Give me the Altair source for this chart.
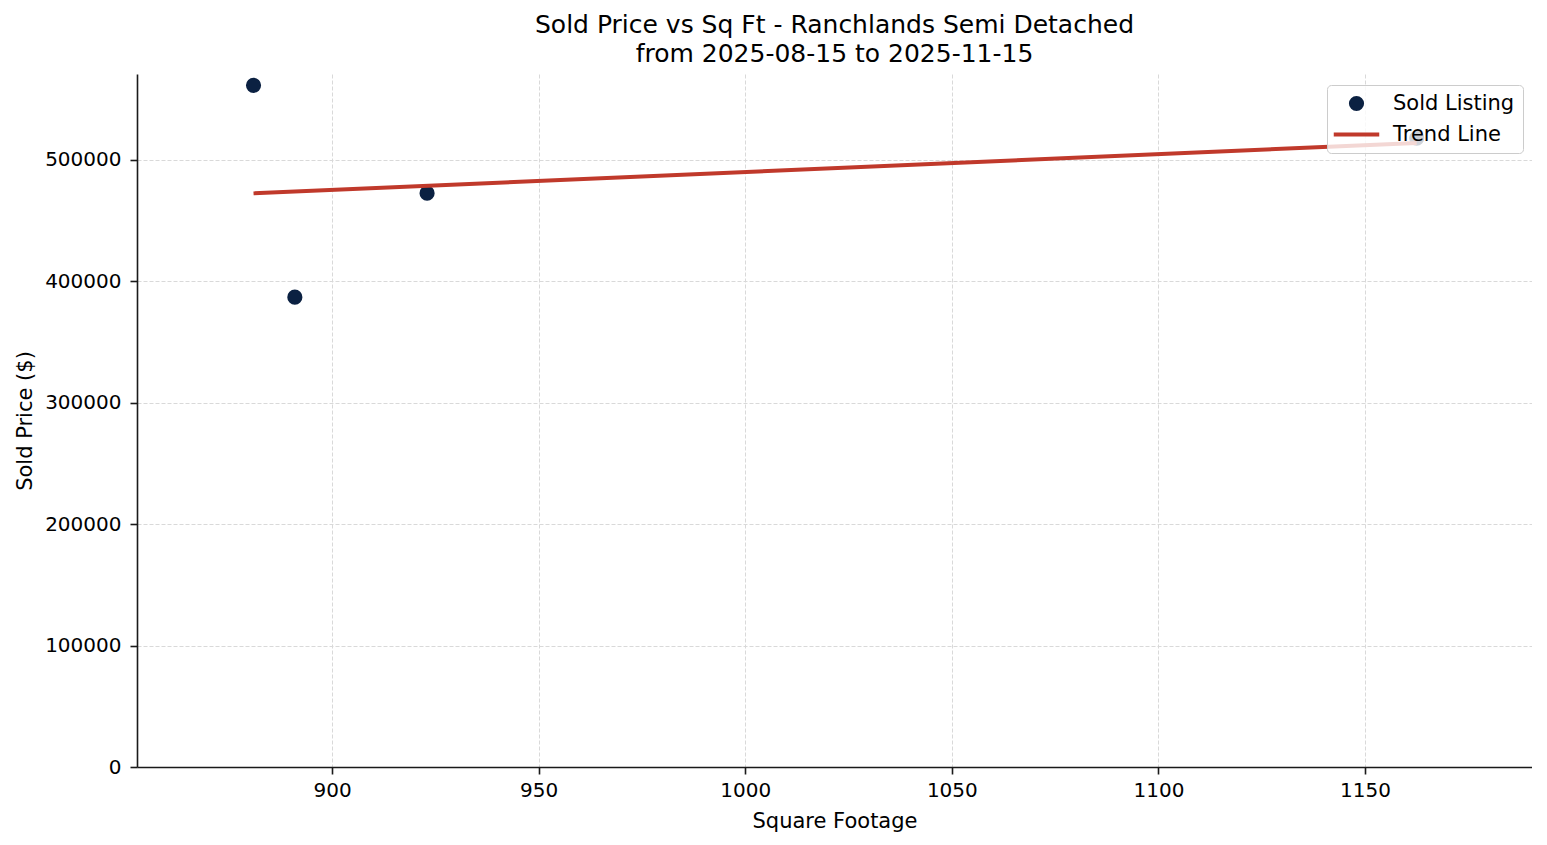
import altair as alt
import pandas as pd

sqft = [881, 891, 923, 1162.5]
price = [561500, 387000, 472600, 518000]
series = ["Sold Listing"] * 4

x_ticks = [900, 950, 1000, 1050, 1100, 1150]
y_ticks = [0, 100000, 200000, 300000, 400000, 500000]

df = pd.DataFrame({"sqft": sqft, "price": price, "series": series})

NAVY = "#0b2142"
RED = "#c0392b"
FONT = "DejaVu Sans"

xscale = alt.Scale(domain=[852.8, 1190.4], nice=False, zero=False)
yscale = alt.Scale(domain=[0, 570800], nice=False, zero=False)

xaxis = alt.Axis(values=x_ticks, title="Square Footage", format="d",
                 grid=True, titlePadding=10, labelPadding=6)
yaxis = alt.Axis(values=y_ticks, title="Sold Price ($)", format="d",
                 grid=True, titlePadding=9, labelPadding=9)

line_path = "M-3,-0.26L3,-0.26L3,0.26L-3,0.26Z"

points = alt.Chart(df).mark_point(filled=True, size=230, opacity=1).encode(
    x=alt.X("sqft:Q", scale=xscale, axis=xaxis),
    y=alt.Y("price:Q", scale=yscale, axis=yaxis),
    color=alt.Color("series:N",
                    scale=alt.Scale(domain=["Sold Listing", "Trend Line"], range=[NAVY, RED]),
                    legend=alt.Legend(title=None, orient="none", legendX=1190, legendY=11,
                                      fillColor="rgba(255,255,255,0.8)", strokeColor="#cccccc",
                                      cornerRadius=4, padding=8, symbolSize=230,
                                      symbolOffset=11, labelOffset=26, rowPadding=8,
                                      labelFontSize=21, labelFont=FONT, labelColor="black",
                                      symbolOpacity=1)),
    shape=alt.Shape("series:N",
                    scale=alt.Scale(domain=["Sold Listing", "Trend Line"], range=["circle", line_path])),
)

trend = alt.Chart(df).transform_regression("sqft", "price", method="linear").mark_line(
    color=RED, strokeWidth=4
).encode(
    x=alt.X("sqft:Q", scale=xscale, axis=xaxis),
    y=alt.Y("price:Q", scale=yscale, axis=yaxis),
)

chart = alt.layer(points, trend).properties(
    width=1395, height=693,
    title=alt.TitleParams(text=["Sold Price vs Sq Ft - Ranchlands Semi Detached",
                                "from 2025-08-15 to 2025-11-15"],
                          fontSize=25, font=FONT, fontWeight="normal", color="black",
                          anchor="middle", frame="group", lineHeight=29, offset=7),
    autosize=alt.AutoSizeParams(type="none"),
    padding={"left": 129, "top": 66, "right": 0, "bottom": 68},
).configure_view(stroke=None).configure_axis(
    domainColor="#1a1a1a", domainWidth=1.6, tickColor="#1a1a1a", tickWidth=1.6, tickSize=7,
    labelFontSize=20, labelFont=FONT, labelColor="black",
    titleFontSize=21, titleFont=FONT, titleFontWeight="normal", titleColor="black",
    gridColor="#d9d9d9", gridDash=[4, 2], gridWidth=1,
)

chart.save("out.html", embed_options={"renderer": "svg", "actions": False})
